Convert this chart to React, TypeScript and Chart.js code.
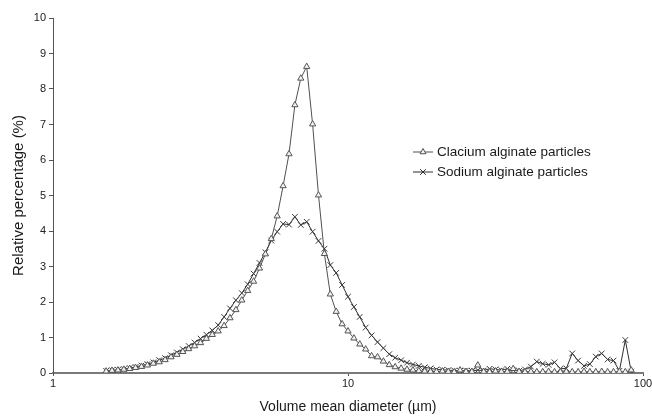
import React, { useEffect, useRef } from "react";
import { Chart, registerables } from "chart.js";

Chart.register(...registerables);

// Particle size bins (µm)
const diameters = [
  1.514, 1.585, 1.66, 1.738, 1.82, 1.905, 1.995, 2.089, 2.188, 2.291,
  2.399, 2.512, 2.63, 2.754, 2.884, 3.02, 3.162, 3.311, 3.467, 3.631,
  3.802, 3.981, 4.169, 4.365, 4.571, 4.786, 5.012, 5.248, 5.495, 5.754,
  6.026, 6.31, 6.607, 6.918, 7.244, 7.586, 7.943, 8.318, 8.71, 9.12,
  9.55, 10.0, 10.47, 10.96, 11.48, 12.02, 12.59, 13.18, 13.8, 14.45,
  15.14, 15.85, 16.6, 17.38, 18.2, 19.05, 19.95, 20.89, 21.88, 22.91,
  23.99, 25.12, 26.3, 27.54, 28.84, 30.2, 31.62, 33.11, 34.67, 36.31,
  38.02, 39.81, 41.69, 43.65, 45.71, 47.86, 50.12, 52.48, 54.95, 57.54,
  60.26, 63.1, 66.07, 69.18, 72.44, 75.86, 79.43, 83.18, 87.1, 91.2,
];

// Relative percentage (%) — calcium alginate particles
const calcium = [
  0.05, 0.07, 0.08, 0.1, 0.12, 0.15, 0.18, 0.22, 0.27, 0.31,
  0.37, 0.45, 0.52, 0.6, 0.68, 0.76, 0.85, 0.97, 1.08, 1.18,
  1.33, 1.55, 1.78, 2.05, 2.32, 2.58, 2.95, 3.35, 3.78, 4.42,
  5.27, 6.17, 7.55, 8.3, 8.63, 7.01, 5.01, 3.36, 2.22, 1.73,
  1.38, 1.18, 0.98, 0.81, 0.67, 0.48, 0.45, 0.33, 0.23, 0.17,
  0.13, 0.1, 0.08, 0.06, 0.05, 0.04, 0.04, 0.05, 0.04, 0.03,
  0.08, 0.04, 0.04, 0.22, 0.04, 0.03, 0.05, 0.04, 0.04, 0.12,
  0.04, 0.03, 0.04, 0.03, 0.03, 0.04, 0.03, 0.03, 0.04, 0.03,
  0.03, 0.04, 0.03, 0.03, 0.04, 0.03, 0.03, 0.04, 0.03, 0.08,
];

// Relative percentage (%) — sodium alginate particles
const sodium = [
  0.06, 0.08, 0.09, 0.11, 0.14, 0.17, 0.21, 0.25, 0.3, 0.36,
  0.42, 0.5, 0.58, 0.67, 0.76, 0.86, 0.97, 1.08, 1.2, 1.35,
  1.58, 1.82, 2.05, 2.25, 2.5, 2.8, 3.1, 3.4, 3.73, 3.98,
  4.2, 4.18, 4.4, 4.17, 4.26, 3.98, 3.72, 3.5, 3.04, 2.82,
  2.48, 2.15, 1.86, 1.58, 1.28, 1.06, 0.87, 0.7, 0.53, 0.43,
  0.36, 0.29, 0.24, 0.2, 0.16, 0.13, 0.1, 0.09, 0.08, 0.07,
  0.06, 0.07, 0.06, 0.08, 0.07, 0.12, 0.1, 0.08, 0.12, 0.08,
  0.06, 0.1, 0.18, 0.32, 0.26, 0.23, 0.3, 0.12, 0.13, 0.55,
  0.35, 0.2, 0.25, 0.46, 0.55, 0.38, 0.35, 0.06, 0.93, 0.04,
];

const xTickValues = [1, 10, 100];
const seriesNames = ["Clacium alginate particles", "Sodium alginate particles"];
const xTitle = "Volume mean diameter (µm)";
const yTitle = "Relative percentage (%)";

const FONT = "'Liberation Sans', Arial, Helvetica, sans-serif";
const CA_LINE = "#505050";
const NA_LINE = "#2e2e2e";
const MARK_FILL = "#f2f2f2";

function drawTriangle(ctx: CanvasRenderingContext2D, x: number, y: number, r: number) {
  ctx.beginPath();
  let rad = 0;
  ctx.moveTo(x + Math.sin(rad) * r, y - Math.cos(rad) * r);
  rad += (2 * Math.PI) / 3;
  ctx.lineTo(x + Math.sin(rad) * r, y - Math.cos(rad) * r);
  rad += (2 * Math.PI) / 3;
  ctx.lineTo(x + Math.sin(rad) * r, y - Math.cos(rad) * r);
  ctx.closePath();
  ctx.fill();
  ctx.stroke();
}

function drawCross(ctx: CanvasRenderingContext2D, x: number, y: number, r: number) {
  const o = r * Math.SQRT1_2;
  ctx.beginPath();
  ctx.moveTo(x - o, y - o);
  ctx.lineTo(x + o, y + o);
  ctx.moveTo(x - o, y + o);
  ctx.lineTo(x + o, y - o);
  ctx.stroke();
}

const legendPlugin = {
  id: "floatingLegend",
  afterDraw(chart: any) {
    const ctx: CanvasRenderingContext2D = chart.ctx;
    const x0 = 413;
    const x1 = 433;
    const rows = [
      { label: seriesNames[0], y: 152, color: CA_LINE, kind: "tri" },
      { label: seriesNames[1], y: 172, color: NA_LINE, kind: "x" },
    ];
    ctx.save();
    for (const r of rows) {
      ctx.strokeStyle = r.color;
      ctx.lineWidth = 1;
      ctx.beginPath();
      ctx.moveTo(x0, r.y);
      ctx.lineTo(x1, r.y);
      ctx.stroke();
      ctx.fillStyle = MARK_FILL;
      if (r.kind === "tri") drawTriangle(ctx, (x0 + x1) / 2, r.y, 3.5);
      else drawCross(ctx, (x0 + x1) / 2, r.y, 4);
      ctx.fillStyle = "#1a1a1a";
      ctx.font = `13.5px ${FONT}`;
      ctx.textAlign = "left";
      ctx.textBaseline = "middle";
      ctx.fillText(r.label, x1 + 4, r.y);
    }
    ctx.restore();
  },
};

export default function App() {
  const canvasRef = useRef<HTMLCanvasElement | null>(null);

  useEffect(() => {
    const canvas = canvasRef.current;
    if (!canvas) return;
    const chart = new Chart(canvas, {
      type: "scatter",
      data: {
        datasets: [
          {
            label: seriesNames[0],
            data: diameters.map((d, i) => ({ x: d, y: calcium[i] })),
            showLine: true,
            borderColor: CA_LINE,
            borderWidth: 1,
            pointStyle: "triangle",
            pointRadius: 3.6,
            pointBorderColor: "#555555",
            pointBackgroundColor: MARK_FILL,
            pointBorderWidth: 1,
            tension: 0,
          },
          {
            label: seriesNames[1],
            data: diameters.map((d, i) => ({ x: d, y: sodium[i] })),
            showLine: true,
            borderColor: NA_LINE,
            borderWidth: 1,
            pointStyle: "crossRot",
            pointRadius: 4,
            pointBorderColor: "#3a3a3a",
            pointBackgroundColor: MARK_FILL,
            pointBorderWidth: 1,
            tension: 0,
          },
        ],
      },
      options: {
        responsive: false,
        animation: false,
        layout: { padding: { left: 0, right: 9, top: 18, bottom: 0 } },
        plugins: {
          legend: { display: false },
          tooltip: { enabled: false },
        },
        scales: {
          x: {
            type: "logarithmic",
            min: 1,
            max: 100,
            afterBuildTicks: (scale: any) => {
              scale.ticks = xTickValues.map((v) => ({ value: v }));
            },
            afterFit: (scale: any) => {
              scale.height = 44;
              scale.paddingLeft = 0;
              scale.paddingRight = 0;
            },
            ticks: {
              autoSkip: false,
              maxRotation: 0,
              padding: 1,
              color: "#222",
              font: { family: FONT, size: 11 },
              callback: (v: any) => String(v),
            },
            grid: { drawOnChartArea: false, color: "#555", tickLength: 3 },
            border: { color: "#7a7a7a", width: 2 },
            title: {
              display: true,
              text: xTitle,
              color: "#1a1a1a",
              font: { family: FONT, size: 14 },
              padding: { top: 0, bottom: 1 },
            },
          },
          y: {
            type: "linear",
            min: 0,
            max: 10,
            afterFit: (scale: any) => {
              scale.width = 53;
              scale.paddingTop = 0;
              scale.paddingBottom = 0;
            },
            ticks: {
              stepSize: 1,
              padding: 3,
              color: "#222",
              font: { family: FONT, size: 11 },
            },
            grid: { drawOnChartArea: false, color: "#555", tickLength: 4 },
            border: { color: "#555", width: 1 },
            title: {
              display: true,
              text: yTitle,
              color: "#1a1a1a",
              font: { family: FONT, size: 15 },
              padding: { top: 10, bottom: 0 },
            },
          },
        },
      },
      plugins: [legendPlugin],
    });
    return () => chart.destroy();
  }, []);

  return (
    <div style={{ position: "fixed", left: 0, top: 0, width: 652, height: 417, background: "#fff" }}>
      <canvas ref={canvasRef} width={652} height={417} style={{ display: "block" }} />
    </div>
  );
}
